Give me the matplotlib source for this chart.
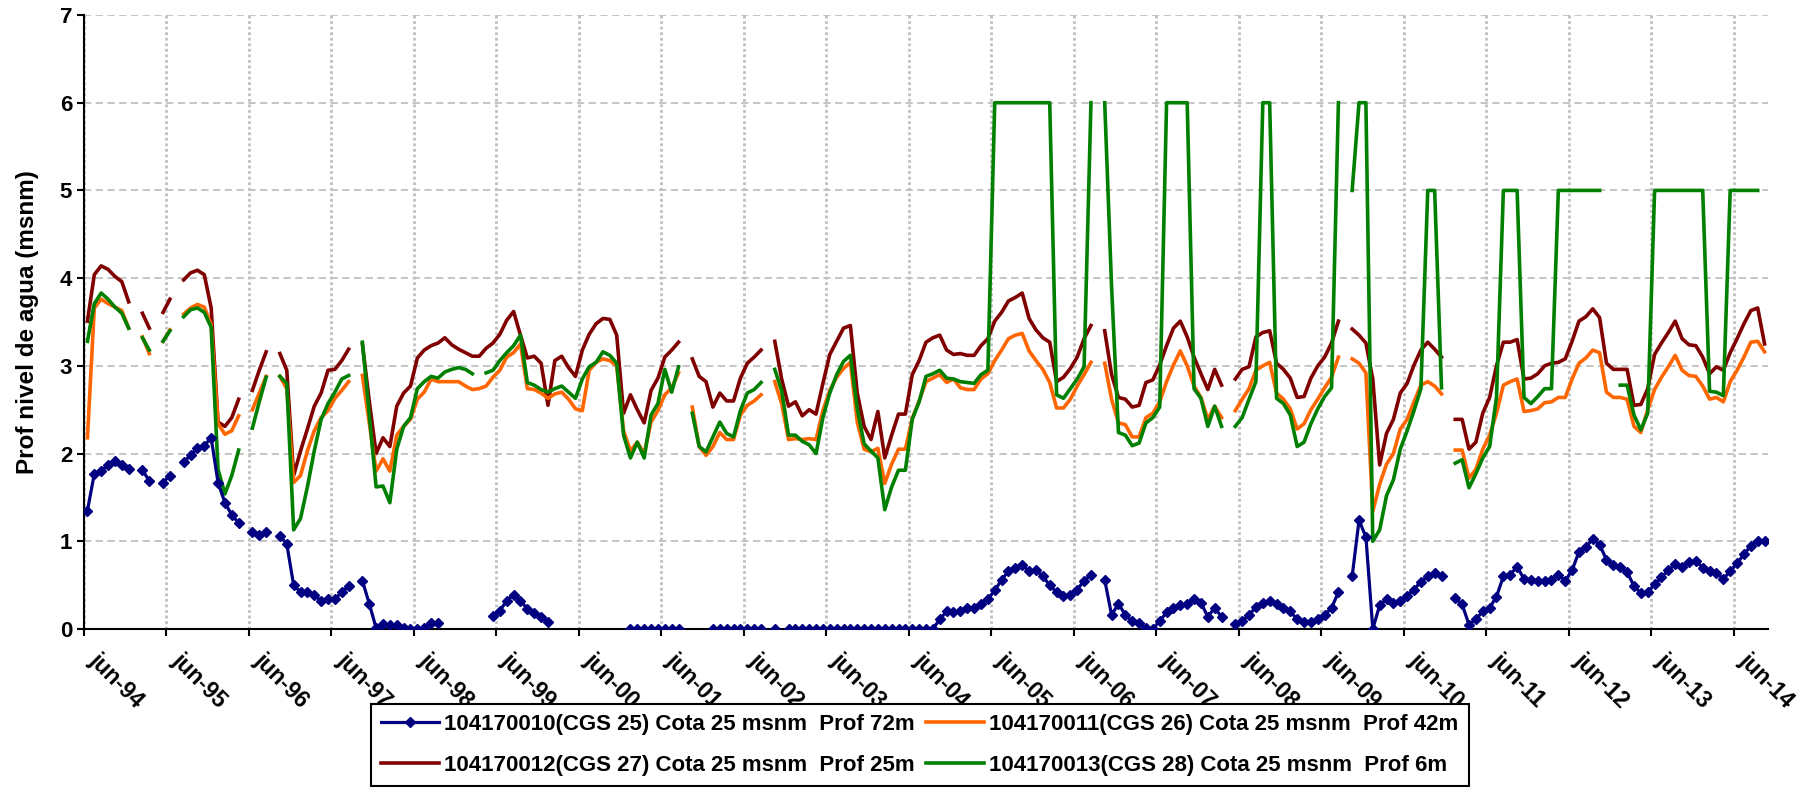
import numpy as np
import matplotlib
matplotlib.use("Agg")
import matplotlib.pyplot as plt
import matplotlib.transforms as mtrans

nan = np.nan

# monthly readings, jun-94 .. oct-14 (245 months)
cgs25 = [
    1.35, 1.77, 1.80, 1.87, 1.91, 1.87, 1.82, nan, 1.81, 1.69, nan, 1.67,
    1.75, nan, 1.90, 1.98, 2.06, 2.09, 2.18, 1.67, 1.44, 1.30, 1.21, nan,
    1.11, 1.07, 1.11, nan, 1.06, 0.97, 0.50, 0.42, 0.42, 0.39, 0.32, 0.34,
    0.34, 0.42, 0.49, nan, 0.55, 0.29, 0.01, 0.06, 0.04, 0.04, 0.01, 0.00,
    0.00, 0.01, 0.07, 0.07, nan, nan, nan, nan, nan, nan, nan, 0.15,
    0.21, 0.32, 0.39, 0.32, 0.23, 0.18, 0.14, 0.08, nan, nan, nan, nan,
    nan, nan, nan, nan, nan, nan, nan, 0.00, 0.00, 0.00, 0.00, 0.00,
    0.00, 0.00, 0.00, nan, nan, nan, nan, 0.00, 0.00, 0.00, 0.00, 0.00,
    0.00, 0.00, 0.00, nan, 0.00, nan, 0.00, 0.00, 0.00, 0.00, 0.00, 0.00,
    0.00, 0.00, 0.00, 0.00, 0.00, 0.00, 0.00, 0.00, 0.00, 0.00, 0.00, 0.00,
    0.00, 0.00, 0.00, 0.00, 0.11, 0.20, 0.19, 0.21, 0.24, 0.24, 0.29, 0.34,
    0.44, 0.56, 0.66, 0.70, 0.73, 0.66, 0.67, 0.60, 0.50, 0.42, 0.38, 0.39,
    0.45, 0.55, 0.62, nan, 0.56, 0.16, 0.29, 0.16, 0.09, 0.07, 0.01, 0.00,
    0.09, 0.19, 0.24, 0.27, 0.29, 0.34, 0.30, 0.14, 0.24, 0.14, nan, 0.06,
    0.09, 0.16, 0.25, 0.30, 0.32, 0.29, 0.24, 0.20, 0.11, 0.08, 0.08, 0.11,
    0.16, 0.24, 0.42, nan, 0.60, 1.24, 1.05, 0.00, 0.27, 0.34, 0.30, 0.32,
    0.38, 0.45, 0.54, 0.60, 0.64, 0.60, nan, 0.35, 0.28, 0.05, 0.11, 0.20,
    0.24, 0.37, 0.60, 0.62, 0.71, 0.57, 0.56, 0.55, 0.55, 0.56, 0.62, 0.55,
    0.67, 0.88, 0.93, 1.03, 0.96, 0.79, 0.73, 0.71, 0.65, 0.49, 0.41, 0.42,
    0.51, 0.59, 0.67, 0.74, 0.71, 0.76, 0.78, 0.70, 0.66, 0.64, 0.57, 0.66,
    0.75, 0.85, 0.95, 1.00, 1.00,
]

cgs26 = [
    2.18, 3.66, 3.76, 3.71, 3.67, 3.63, 3.43, nan, 3.33, 3.14, nan, 3.28,
    3.41, nan, 3.59, 3.66, 3.70, 3.67, 3.47, 2.34, 2.22, 2.26, 2.43, nan,
    2.50, 2.69, 2.88, nan, 2.88, 2.74, 1.67, 1.75, 2.03, 2.26, 2.41, 2.49,
    2.63, 2.72, 2.82, nan, 2.89, 2.35, 1.80, 1.94, 1.80, 2.21, 2.31, 2.39,
    2.62, 2.70, 2.85, 2.82, 2.82, 2.82, 2.82, 2.77, 2.73, 2.74, 2.77, 2.87,
    2.95, 3.10, 3.15, 3.25, 2.74, 2.73, 2.69, 2.63, 2.68, 2.70, 2.62, 2.51,
    2.49, 2.95, 3.04, 3.08, 3.06, 3.00, 2.26, 2.03, 2.13, 2.00, 2.36, 2.49,
    2.67, 2.75, 2.92, nan, 2.53, 2.08, 1.98, 2.08, 2.24, 2.16, 2.16, 2.44,
    2.55, 2.60, 2.67, nan, 2.82, 2.57, 2.16, 2.17, 2.16, 2.17, 2.16, 2.49,
    2.72, 2.87, 2.97, 3.04, 2.36, 2.05, 2.02, 2.06, 1.66, 1.88, 2.05, 2.05,
    2.40, 2.60, 2.82, 2.86, 2.90, 2.81, 2.85, 2.75, 2.73, 2.73, 2.85, 2.91,
    3.06, 3.18, 3.31, 3.35, 3.37, 3.17, 3.06, 2.96, 2.81, 2.52, 2.52, 2.62,
    2.77, 2.90, 3.04, nan, 3.03, 2.62, 2.35, 2.33, 2.19, 2.19, 2.41, 2.46,
    2.59, 2.82, 3.01, 3.17, 3.00, 2.77, 2.64, 2.39, 2.54, 2.41, nan, 2.49,
    2.62, 2.74, 2.95, 3.00, 3.04, 2.69, 2.62, 2.51, 2.28, 2.34, 2.50, 2.62,
    2.75, 2.87, 3.10, nan, 3.08, 3.03, 2.92, 1.34, 1.65, 1.88, 2.00, 2.28,
    2.39, 2.59, 2.78, 2.82, 2.77, 2.68, nan, 2.04, 2.04, 1.72, 1.82, 2.05,
    2.21, 2.46, 2.78, 2.82, 2.85, 2.48, 2.49, 2.51, 2.58, 2.59, 2.64, 2.64,
    2.85, 3.03, 3.09, 3.18, 3.15, 2.70, 2.64, 2.64, 2.62, 2.31, 2.24, 2.50,
    2.73, 2.87, 2.99, 3.12, 2.95, 2.89, 2.88, 2.77, 2.62, 2.64, 2.59, 2.82,
    2.95, 3.10, 3.27, 3.28, 3.16,
]

cgs27 = [
    3.51, 4.04, 4.14, 4.10, 4.02, 3.96, 3.73, nan, 3.60, 3.43, nan, 3.61,
    3.76, nan, 3.98, 4.06, 4.09, 4.04, 3.66, 2.36, 2.31, 2.41, 2.62, nan,
    2.72, 2.95, 3.16, nan, 3.14, 2.95, 1.75, 2.03, 2.28, 2.54, 2.69, 2.95,
    2.96, 3.06, 3.19, nan, 3.25, 2.60, 2.00, 2.18, 2.08, 2.54, 2.69, 2.77,
    3.09, 3.18, 3.23, 3.26, 3.32, 3.24, 3.19, 3.15, 3.11, 3.11, 3.20, 3.26,
    3.36, 3.52, 3.62, 3.35, 3.09, 3.11, 3.03, 2.55, 3.06, 3.11, 2.98, 2.88,
    3.18, 3.36, 3.48, 3.54, 3.53, 3.35, 2.46, 2.67, 2.50, 2.35, 2.72, 2.86,
    3.10, 3.18, 3.27, nan, 3.08, 2.88, 2.82, 2.53, 2.69, 2.60, 2.60, 2.86,
    3.03, 3.10, 3.18, nan, 3.28, 2.85, 2.54, 2.59, 2.43, 2.50, 2.45, 2.80,
    3.13, 3.28, 3.43, 3.46, 2.69, 2.31, 2.16, 2.48, 1.95, 2.21, 2.45, 2.45,
    2.90, 3.06, 3.27, 3.32, 3.35, 3.18, 3.13, 3.14, 3.12, 3.12, 3.23, 3.31,
    3.51, 3.61, 3.74, 3.78, 3.83, 3.54, 3.41, 3.32, 3.27, 2.82, 2.87, 2.97,
    3.10, 3.31, 3.46, nan, 3.40, 2.90, 2.64, 2.62, 2.53, 2.55, 2.81, 2.84,
    3.01, 3.23, 3.43, 3.51, 3.33, 3.10, 2.91, 2.73, 2.96, 2.78, nan, 2.85,
    2.96, 2.99, 3.33, 3.38, 3.40, 3.03, 2.96, 2.86, 2.64, 2.65, 2.86, 3.00,
    3.10, 3.26, 3.51, nan, 3.42, 3.35, 3.26, 2.85, 1.87, 2.23, 2.39, 2.69,
    2.80, 3.01, 3.18, 3.27, 3.19, 3.10, nan, 2.39, 2.39, 2.05, 2.13, 2.46,
    2.64, 3.00, 3.27, 3.27, 3.30, 2.85, 2.86, 2.91, 3.00, 3.03, 3.04, 3.08,
    3.28, 3.51, 3.56, 3.65, 3.55, 3.03, 2.96, 2.96, 2.96, 2.55, 2.56, 2.74,
    3.13, 3.26, 3.38, 3.51, 3.31, 3.24, 3.23, 3.10, 2.91, 2.99, 2.95, 3.15,
    3.31, 3.48, 3.63, 3.66, 3.25,
]

cgs28 = [
    3.28, 3.71, 3.83, 3.76, 3.67, 3.60, 3.43, nan, 3.32, 3.18, nan, 3.28,
    3.40, nan, 3.56, 3.64, 3.66, 3.61, 3.44, 1.82, 1.54, 1.75, 2.04, nan,
    2.29, 2.59, 2.87, nan, 2.88, 2.80, 1.13, 1.26, 1.62, 2.03, 2.39, 2.57,
    2.70, 2.85, 2.89, nan, 3.27, 2.45, 1.62, 1.63, 1.44, 2.05, 2.31, 2.41,
    2.74, 2.82, 2.88, 2.86, 2.93, 2.96, 2.98, 2.96, 2.91, nan, 2.92, 2.95,
    3.06, 3.15, 3.23, 3.35, 2.81, 2.78, 2.73, 2.70, 2.74, 2.77, 2.70, 2.63,
    2.85, 2.99, 3.04, 3.16, 3.12, 3.03, 2.21, 1.95, 2.13, 1.95, 2.44, 2.57,
    2.96, 2.70, 2.99, nan, 2.46, 2.08, 2.02, 2.19, 2.36, 2.23, 2.19, 2.49,
    2.69, 2.73, 2.81, nan, 2.96, 2.72, 2.21, 2.21, 2.14, 2.10, 2.00, 2.41,
    2.69, 2.90, 3.05, 3.12, 2.51, 2.11, 2.03, 1.95, 1.36, 1.62, 1.81, 1.81,
    2.39, 2.59, 2.88, 2.91, 2.95, 2.86, 2.85, 2.82, 2.81, 2.80, 2.90, 2.95,
    6.00, 6.00, 6.00, 6.00, 6.00, 6.00, 6.00, 6.00, 6.00, 2.67, 2.63, 2.74,
    2.85, 2.99, 6.00, nan, 6.00, 3.90, 2.24, 2.21, 2.09, 2.12, 2.35, 2.41,
    2.53, 6.00, 6.00, 6.00, 6.00, 2.74, 2.63, 2.31, 2.54, 2.31, nan, 2.31,
    2.41, 2.62, 2.82, 6.00, 6.00, 2.63, 2.57, 2.44, 2.08, 2.13, 2.34, 2.51,
    2.65, 2.75, 6.00, nan, 5.00, 6.00, 6.00, 1.00, 1.13, 1.52, 1.70, 2.05,
    2.26, 2.49, 2.74, 5.00, 5.00, 2.75, nan, 1.89, 1.93, 1.61, 1.77, 1.95,
    2.08, 2.64, 5.00, 5.00, 5.00, 2.64, 2.57, 2.65, 2.74, 2.74, 5.00, 5.00,
    5.00, 5.00, 5.00, 5.00, 5.00, nan, nan, 2.78, 2.78, 2.44, 2.27, 2.46,
    5.00, 5.00, 5.00, 5.00, 5.00, 5.00, 5.00, 5.00, 2.71, 2.70, 2.66, 5.00,
    5.00, 5.00, 5.00, 5.00, nan,
]

year_labels = ["jun-%02d" % (y % 100) for y in range(1994, 2015)]

labels = [
    "104170010(CGS 25) Cota 25 msnm  Prof 72m",
    "104170011(CGS 26) Cota 25 msnm  Prof 42m",
    "104170012(CGS 27) Cota 25 msnm  Prof 25m",
    "104170013(CGS 28) Cota 25 msnm  Prof 6m",
]

plt.rcParams["font.family"] = ["Liberation Sans", "DejaVu Sans"]
plt.rcParams["font.weight"] = "bold"

x = np.arange(len(cgs25))

fig = plt.figure(figsize=(18.16, 7.87), dpi=100)
ax = fig.add_axes([84 / 1816, 1 - 629 / 787, (1768 - 84) / 1816, (629 - 15) / 787])

# lineas
(l1,) = ax.plot(x, cgs25, color="#000080", lw=2.3, marker="D", markersize=5,
                label=labels[0], zorder=5)
(l2,) = ax.plot(x, cgs26, color="#ff6600", lw=2.6, label=labels[1], zorder=3)
(l3,) = ax.plot(x, cgs27, color="#800000", lw=2.6, label=labels[2], zorder=2)
(l4,) = ax.plot(x, cgs28, color="#008000", lw=2.6, label=labels[3], zorder=4)

ax.set_xlim(-0.5, len(x) - 0.5)
ax.set_ylim(0, 7)
ax.set_yticks(range(0, 8))
ax.tick_params(axis="y", labelsize=16, length=5, width=1.5)

ticks = np.arange(len(year_labels)) * 12 - 0.5
ax.set_xticks(ticks)
ax.set_xticklabels(year_labels, rotation=-45, ha="left", va="top",
                   rotation_mode="anchor", fontsize=16.5, fontweight="bold")
ax.tick_params(axis="x", length=5, width=1.5, pad=9)
shift = mtrans.ScaledTranslation(12 / 72, 0, fig.dpi_scale_trans)
for t in ax.get_xticklabels():
    t.set_transform(t.get_transform() + shift)

ax.set_ylabel("Prof nivel de agua (msnm)", fontsize=17.5, fontweight="bold", labelpad=15)

# grid
ax.yaxis.grid(True, linestyle=(0, (4, 2.5)), color="#c0c0c0", lw=1.3)
ax.xaxis.grid(True, linestyle=(0, (1, 1)), color="#c0c0c0", lw=2.0)
ax.set_axisbelow(True)

for s in ["top", "right"]:
    ax.spines[s].set_visible(False)
for s in ["left", "bottom"]:
    ax.spines[s].set_linewidth(1.5)

# orden por filas: CGS25, CGS26 / CGS27, CGS28
leg = fig.legend(
    [l1, l3, l2, l4],
    [labels[0], labels[2], labels[1], labels[3]],
    loc="upper left",
    bbox_to_anchor=(371 / 1816, 1 - 704 / 787),
    ncol=2,
    fancybox=False,
    edgecolor="black",
    framealpha=1,
    prop={"size": 16, "weight": "bold"},
    handlelength=2.6,
    borderpad=0.45,
    borderaxespad=0,
    labelspacing=0.9,
    columnspacing=0.5,
    handletextpad=0.25,
)
leg.get_frame().set_linewidth(1.5)

fig.savefig("out.png", dpi=100)
